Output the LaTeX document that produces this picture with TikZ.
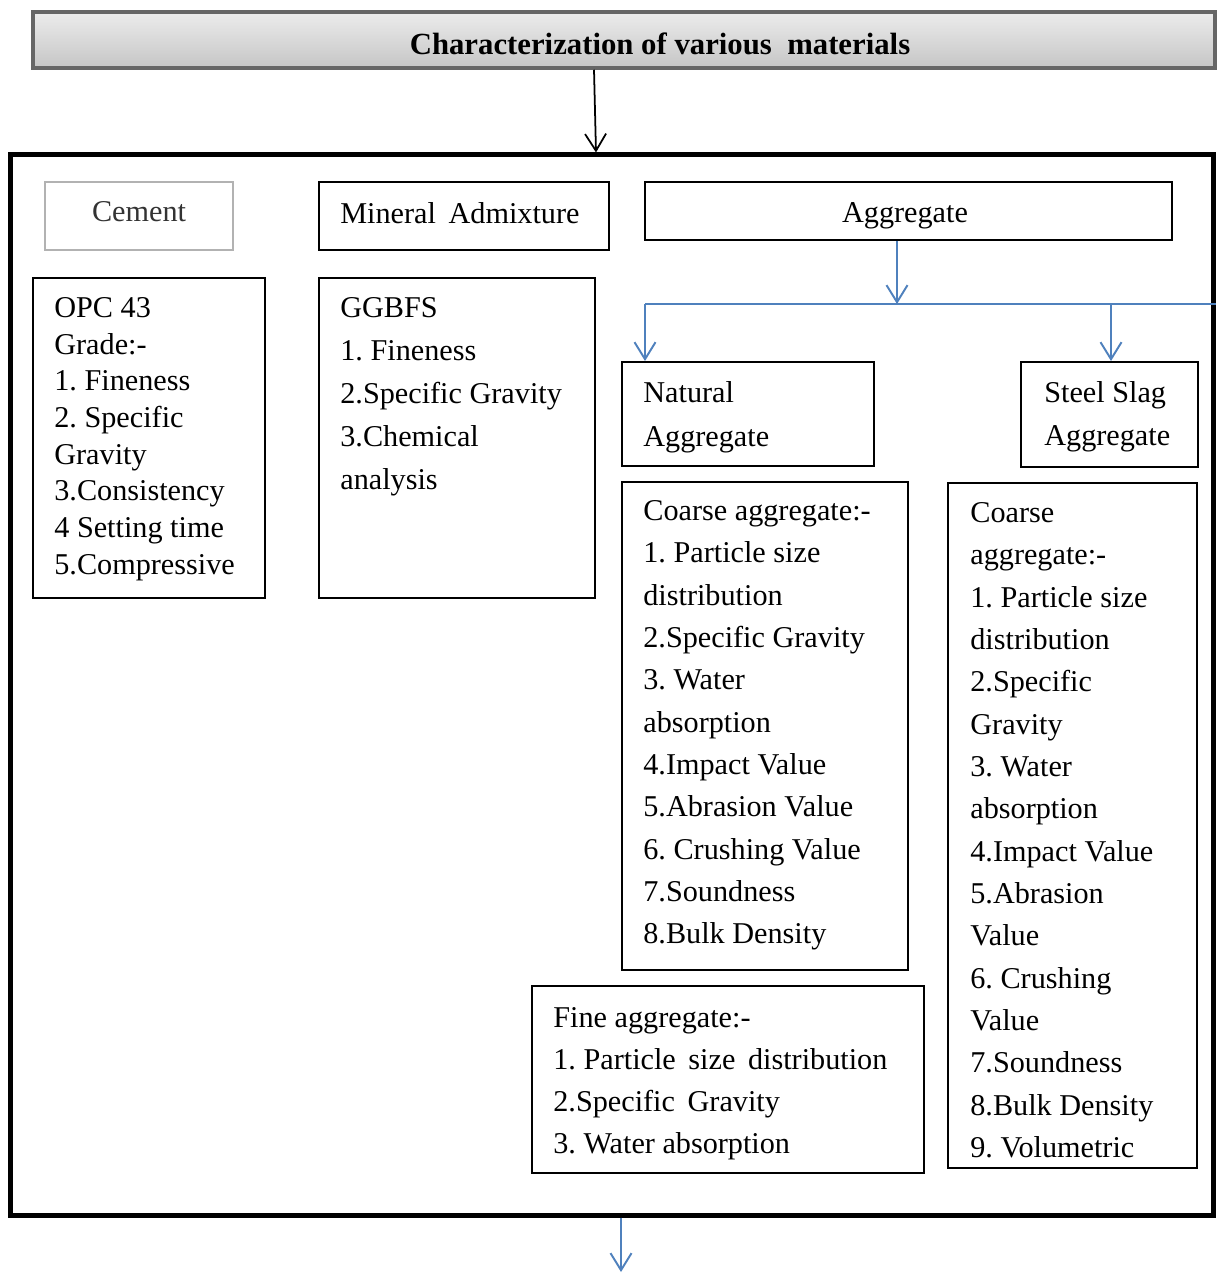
\documentclass[tikz,border=0pt]{standalone}
\usepackage{fontspec}
\setmainfont{Liberation Serif}
\usepackage{xcolor}
\usetikzlibrary{arrows.meta,positioning,fit,calc}
\definecolor{flowblue}{HTML}{4F81BD}
\frenchspacing

\begin{document}
\begin{tikzpicture}[
  x=0.02cm, y=-0.02cm,
  font=\fontsize{17.2}{24}\selectfont,
  box/.style={draw, line width=1.1pt, inner sep=0pt},
  greybox/.style={box, draw=gray!60},
  frame/.style={draw, line width=0.1cm, inner sep=0pt},
  headbox/.style={draw=black!60, line width=2pt, inner sep=0pt, top color=gray!15, middle color=white, bottom color=gray!45},
  txt/.style={anchor=north west, align=left, inner sep=0pt},
  arr/.style={-{Straight Barb[length=0.34cm, width=0.42cm]}, line width=1pt},
  barr/.style={arr, draw=flowblue, line width=1.1pt},
  bline/.style={draw=flowblue, line width=1.1pt}
]
\fill[white] (0,0) rectangle (1217,1273);
\useasboundingbox (0,0) rectangle (1217,1273);
% Heading
\node[headbox, fit={(33,12)(1215,68)}] (title) {};
\node[font=\fontsize{17.5}{24}\selectfont\bfseries] (titletext) at (660,44) {Characterization of various \ materials};
\node[frame, fit={(10.5,155)(1213.5,1215)}] (outer) {};
\draw[arr] ([xshift=-0.6cm]title.south) -- ([xshift=-0.32cm]outer.north);
% Top row
\node[greybox, fit={(45,182)(233,250)}] (cement) {};
\node[text=black!80] (cementtext) at (139,212) {Cement};
\node[box, fit={(319,182)(609,250)}] (mineral) {};
\node[txt] (mineraltext) at (340,202) {Mineral \,Admixture};
\node[box, fit={(645,182)(1172,240)}] (aggregate) {};
\node (aggregatetext) at (905,216) {Aggregate};
% Cement and admixture tests
\node[box, fit={(33,278)(265,598)}] (opc) {};
\node[txt, font=\fontsize{17.2}{20.9}\selectfont] (opctext) at (54,297)
  {OPC 43\\Grade:-\\1. Fineness\\2. Specific\\Gravity\\3.Consistency\\4 Setting time\\5.Compressive};
\node[box, fit={(319,278)(595,598)}] (ggbfs) {};
\node[txt, font=\fontsize{17.2}{24.5}\selectfont] (ggbfstext) at (340,297)
  {GGBFS\\1. Fineness\\2.Specific Gravity\\3.Chemical\\analysis};
% Aggregate branches
\node[box, fit={(622,362)(874,466)}] (natural) {};
\node[txt, font=\fontsize{17.2}{25}\selectfont] (naturaltext) at (643,381) {Natural\\Aggregate};
\node[box, fit={(1021,362)(1198,467)}] (steel) {};
\node[txt, font=\fontsize{17.2}{24.5}\selectfont] (steeltext) at (1044,381) {Steel Slag\\Aggregate};
\coordinate (split) at (897,304);
\coordinate (branchL) at (645,304);
\coordinate (branchR) at (1111,304);
\draw[barr] (aggregate.south -| split) -- (split);
\draw[bline] (branchL) -- (branchL -| outer.east);
\draw[barr] (branchL) -- (branchL |- natural.north);
\draw[barr] (branchR) -- (branchR |- steel.north);
% Aggregate tests
\node[box, fit={(622,482)(908,970)}] (natcoarse) {};
\node[txt, font=\fontsize{17.2}{24.1}\selectfont] (natcoarsetext) at (643,500)
  {Coarse aggregate:-\\1. Particle size\\distribution\\2.Specific Gravity\\3. Water\\absorption\\4.Impact Value\\5.Abrasion Value\\6. Crushing Value\\7.Soundness\\8.Bulk Density};
\node[box, fit={(948,483)(1197,1168)}] (slagcoarse) {};
\node[txt, font=\fontsize{17.2}{24.1}\selectfont] (slagcoarsetext) at (970,502)
  {Coarse\\aggregate:-\\1. Particle size\\distribution\\2.Specific\\Gravity\\3. Water\\absorption\\4.Impact Value\\5.Abrasion\\Value\\6. Crushing\\Value\\7.Soundness\\8.Bulk Density\\9. Volumetric};
\node[box, fit={(532,986)(924,1173)}] (fine) {};
\node[txt, font=\fontsize{17.2}{24}\selectfont] (finetext) at (553,1007)
  {Fine aggregate:-\\1. Particle \,size \,distribution\\2.Specific \,Gravity\\3. Water absorption};
% Exit
\coordinate (exit) at (621,1272);
\draw[barr] (outer.south -| exit) -- (exit);
\end{tikzpicture}
\end{document}
